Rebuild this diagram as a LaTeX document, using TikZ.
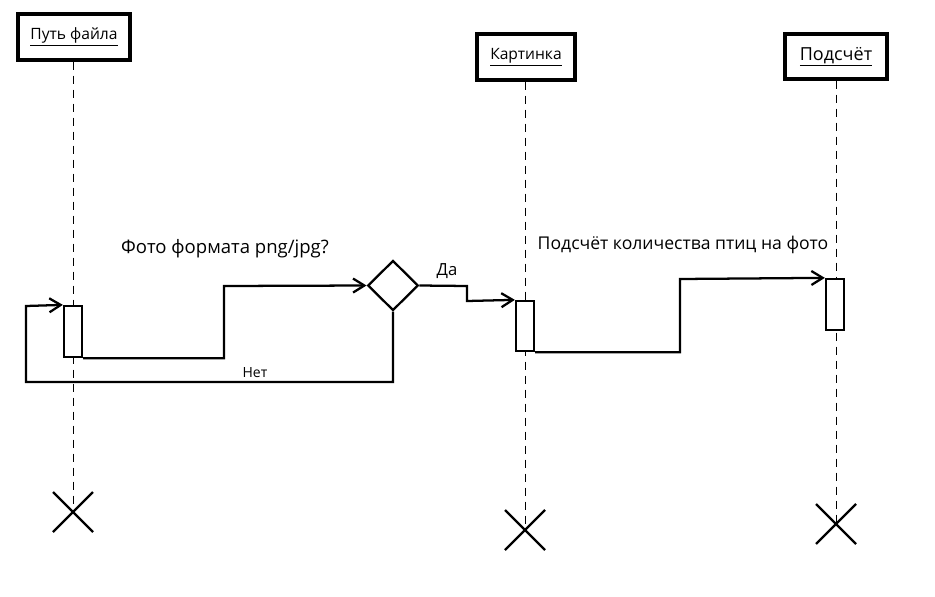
\documentclass[tikz,border=0pt]{standalone}
\usepackage{fontspec}
\setmainfont{Open Sans}
\usetikzlibrary{arrows.meta,shapes.geometric}
\begin{document}
\begin{tikzpicture}[x=0.75pt,y=-0.75pt,
  hdr/.style={draw,line width=2.3pt,fill=white,inner sep=0pt,font=\fontsize{11.7}{14}\selectfont},
  act/.style={draw,line width=1.7pt,fill=white,minimum width=13.5pt,minimum height=38pt,inner sep=0pt},
  gate/.style={draw,line width=1.7pt,fill=white,diamond,minimum width=38pt,minimum height=37.5pt,inner sep=0pt},
  life/.style={line width=0.6pt,dash pattern=on 6pt off 4.5pt},
  msg/.style={line width=1.7pt,-{Straight Barb[length=8.5pt,width=10.5pt,line width=1.7pt]}},
  xmark/.style={line width=1.8pt},
  lbl/.style={font=\fontsize{13.5}{16}\selectfont,inner sep=0pt},
  slbl/.style={font=\fontsize{10.5}{12}\selectfont,inner sep=0pt}]
\useasboundingbox (0,0) rectangle (935,596);
% headers
\node[hdr,minimum width=84pt,minimum height=34.5pt] (h1) at (74,37) {\underline{Путь файла}};
\node[hdr,minimum width=73.5pt,minimum height=34.5pt] (h2) at (526,57) {\underline{Картинка}};
\node[hdr,minimum width=76.5pt,minimum height=33.75pt,font=\fontsize{13.5}{16}\selectfont] (h3) at (836,56.5) {\underline{Подсчёт}};
% cross points
\coordinate (x1) at (73,512);
\coordinate (x2) at (525,530);
\coordinate (x3) at (836,524);
% lifelines
\draw[life] (h1.south -| x1) -- (x1);
\draw[life] (h2.south -| x2) -- (x2);
\draw[life] (h3.south -| x3) -- (x3);
% crosses
\foreach \c in {x1,x2,x3}{
  \draw[xmark] ([shift={(-20,-20)}]\c) -- ([shift={(20,20)}]\c);
  \draw[xmark] ([shift={(-20,20)}]\c) -- ([shift={(20,-20)}]\c);
}
% activations
\node[act,minimum height=38.25pt] (a1) at (73,331.5) {};
\node[act,minimum height=37.5pt] (a2) at (525,326) {};
\node[act,minimum height=38.25pt] (a3) at (835,304.5) {};
% decision
\node[gate] (d) at (393,285.5) {};
% coordinates for bends
\coordinate (b1) at (224,355);
\coordinate (b2) at (224,286);
\coordinate (b3) at (467,286);
\coordinate (b4) at (467,301);
\coordinate (b5) at (680,351);
\coordinate (b6) at (680,279);
\coordinate (b7) at (26,382);
\coordinate (b8) at (26,306);
% messages
\draw[msg] (a1.south east) -- (a1.south east -| b1) -- (b2) -- (d.west);
\draw[msg] (d.east) -- (b3) -- (b4) -- (a2.north west);
\draw[msg] (a2.south east) -- (a2.south east -| b5) -- (b6) -- (a3.north west);
\draw[msg] (d.south) -- (d.south |- b7) -- (b7) -- (b8) -- (a1.north west);
% labels
\node[lbl,font=\fontsize{13.9}{16}\selectfont] (t1) at (225,249) {Фото формата png/jpg?};
\node[lbl,font=\fontsize{13.2}{16}\selectfont] (t2) at (683,245) {Подсчёт количества птиц на фото};
\node[slbl,font=\fontsize{12.5}{14}\selectfont] (t3) at (447,271) {Да};
\node[slbl] (t4) at (255,373) {Нет};
\end{tikzpicture}
\end{document}
